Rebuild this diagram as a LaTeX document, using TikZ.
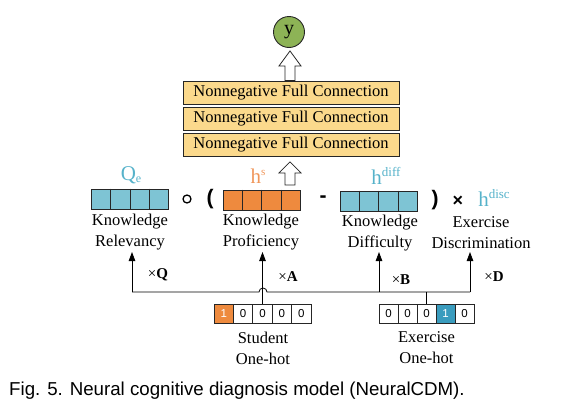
\documentclass[tikz,border=0pt]{standalone}
\usepackage{fontspec}
\setmainfont{Liberation Serif}
\newfontfamily\arialf{Liberation Sans}
\usetikzlibrary{calc,arrows.meta}
\definecolor{ygreen}{HTML}{8DB356}
\definecolor{fcyellow}{HTML}{FBD98C}
\definecolor{vblue}{HTML}{7EC4D4}
\definecolor{vorange}{HTML}{EE8A3E}
\definecolor{hotblue}{HTML}{3A9CBE}
\definecolor{lblue}{HTML}{56B2CA}
\definecolor{lorange}{HTML}{F0965A}
\tikzset{
  fcbox/.style={draw=black!85, line width=0.8pt, fill=fcyellow, minimum width=216pt, minimum height=23pt, inner sep=0pt, font=\fontsize{16.5}{18}\selectfont},
  vecbox/.style={draw=black!85, line width=0.8pt, minimum width=77pt, minimum height=20pt, inner sep=0pt},
  cellbox/.style={draw=black!85, line width=0.8pt, minimum height=19pt, inner sep=0pt, font=\arialf\fontsize{11.5}{12}\selectfont},
  desc/.style={align=center, inner sep=0pt, font=\fontsize{16.5}{21}\selectfont},
  veclabel/.style={inner sep=0pt, font=\fontsize{21}{22}\selectfont},
  oplabel/.style={inner sep=0pt, font=\arialf\bfseries\fontsize{21}{22}\selectfont},
  mullabel/.style={inner sep=0pt, font=\fontsize{15}{16}\selectfont},
  hollow/.style={draw=black!85, line width=0.8pt, fill=white},
  conn/.style={line width=0.8pt, draw=black},
  upar/.style={conn, -{Triangle[length=9pt,width=6.5pt]}}
}
\begin{document}
\begin{tikzpicture}[x=1pt,y=-1pt]
\useasboundingbox (0,0) rectangle (582,407);
% output node
\node[circle, draw=black!85, line width=0.9pt, fill=ygreen, minimum size=31pt, inner sep=0pt, font=\fontsize{20}{20}\selectfont] (y) at (289,32) {y};
% full connection layers
\node[fcbox] (fc1) at (291,92.5) {Nonnegative Full Connection};
\node[fcbox] (fc2) at (291,118.5) {Nonnegative Full Connection};
\node[fcbox] (fc3) at (291,145) {Nonnegative Full Connection};
% hollow arrow fc1 -> y
\path ($(fc1.north)+(-1,0)$) coordinate (ha1b) ($(y.south)+(1,3)$) coordinate (ha1t);
\draw[hollow] (ha1t) -- ++(11,15) -- ++(-6,0) |- (ha1b) -- ++(-5,0) coordinate (tmp) -- (tmp |- {$(ha1t)+(0,15)$}) -- ++(-6,0) -- cycle;
% vectors
\node[vecbox, fill=vblue] (qe) at (130,199) {};
\node[vecbox, fill=vorange] (hs) at (261.5,200) {};
\node[vecbox, fill=vblue] (hd) at (378.5,201) {};
\foreach \v in {qe,hs,hd}{
  \foreach \i in {1,2,3}{
    \draw[line width=0.8pt, black!85] ($(\v.north west)!\i/4!(\v.north east)$) -- ($(\v.south west)!\i/4!(\v.south east)$);
  }
}
% vector labels
\node[veclabel, text=lblue] (qelab) at (131,175) {Q\raisebox{-2pt}{\fontsize{12}{12}\selectfont e}};
\node[veclabel, text=lorange] (hslab) at (258,176) {h\raisebox{8pt}{\fontsize{11}{11}\selectfont s}};
\node[veclabel, text=lblue] (hdlab) at (386,176) {h\raisebox{8pt}{\fontsize{13}{13}\selectfont diff}};
\node[veclabel, text=lblue] (hclab) at (494,198) {h\raisebox{8pt}{\fontsize{13}{13}\selectfont disc}};
% hollow arrow fc3 <- from h^s area
\coordinate (ha2t) at ($(fc3.south)+(-1,5)$);
\coordinate (ha2b) at (290,185);
\draw[hollow] (ha2t) -- ++(11,11) -- ++(-6,0) |- (ha2b) -- ++(-5,0) coordinate (tmp2) -- (tmp2 |- {$(ha2t)+(0,11)$}) -- ++(-6,0) -- cycle;
% operators
\node[circle, draw=black, line width=1.3pt, minimum size=8pt, inner sep=0pt] (op1) at (187,199) {};
\node[oplabel] (op2) at (210,199) {(};
\node[oplabel] (op3) at (323,199) {-};
\node[oplabel] (op4) at (435,200) {)};
\node[oplabel, font=\arialf\bfseries\fontsize{18}{18}\selectfont] (op5) at (458,201) {×};
% descriptions
\node[desc] (relev) at (130,232) {Knowledge\\Relevancy};
\node[desc] (prof) at (261,232) {Knowledge\\Proficiency};
\node[desc] (diff) at (380,233) {Knowledge\\Difficulty};
\node[desc] (disc) at (481,233) {Exercise\\Discrimination};
% one-hot vectors
\foreach \i/\v in {1/1,2/0,3/0,4/0,5/0}{
  \node[cellbox, minimum width=19.4pt] (s\i) at ({214+9.7+19.4*(\i-1)},313.5) {\v};
}
\node[cellbox, minimum width=19.4pt, fill=vorange, text=white] at (s1) {1};
\foreach \i/\v in {1/0,2/0,3/0,4/1,5/0}{
  \node[cellbox, minimum width=19pt] (e\i) at ({379+9.5+19*(\i-1)},313.5) {\v};
}
\node[cellbox, minimum width=19pt, fill=hotblue, text=white] at (e4) {1};
\node[desc] (stud) at (263,348) {Student\\One-hot};
\node[desc] (exer) at (426.5,348) {Exercise\\One-hot};
% connectors
\coordinate (cl) at (132,292);
\coordinate (cr) at (470,292);
\coordinate (cb) at (379,292);
\coordinate (ta) at (263,252);
\draw[conn] (cl) -- (259,292) arc[start angle=180, end angle=360, radius=4] -- (cr);
\draw[conn] (e3.north) -- (e3.north |- cl);
\draw[upar] (cl) -- (132,252);
\draw[upar] (s3.north) -- (s3.north |- ta);
\draw[upar] (cb) -- (379,252);
\draw[upar] (cr) -- (470,252);
\node[mullabel] (mq) at (158,275) {×\textbf{Q}};
\node[mullabel] (ma) at (288,277) {×\textbf{A}};
\node[mullabel] (mb) at (401,280) {×\textbf{B}};
\node[mullabel] (md) at (494,277) {×\textbf{D}};
% caption
\node[anchor=west, inner sep=0pt, font=\arialf\fontsize{18.7}{20}\selectfont] (cap) at (9,391) {Fig. 5. Neural cognitive diagnosis model (NeuralCDM).};
\end{tikzpicture}
\end{document}
